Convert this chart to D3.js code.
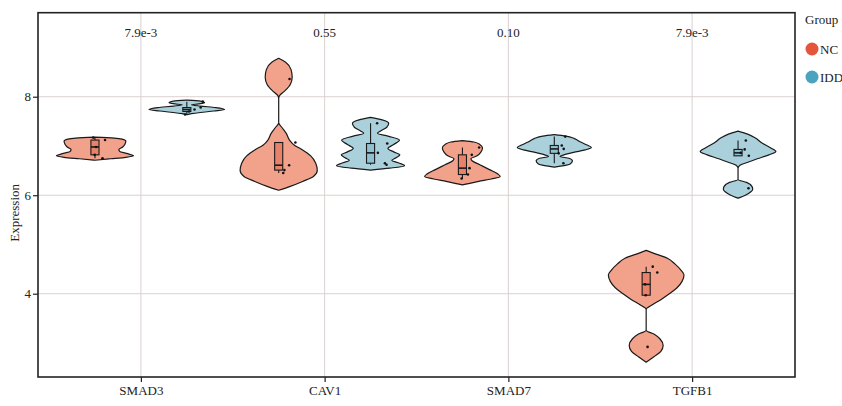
<!DOCTYPE html>
<html>
<head>
<meta charset="utf-8">
<script src="https://cdn.jsdelivr.net/npm/d3@7"></script>
<style>
  html, body { margin: 0; padding: 0; background: #ffffff; }
  svg { display: block; }
  text { font-family: "Liberation Serif", "Times New Roman", serif; }
</style>
</head>
<body>
<svg id="chart" width="842" height="406"></svg>
<script>
// Genes on the x axis and the two groups compared for each gene
const genes = ["SMAD3", "CAV1", "SMAD7", "TGFB1"];
const groups = ["NC", "IDD"];
const pLabels = ["7.9e-3", "0.55", "0.10", "7.9e-3"];
const yTicks = [4, 6, 8];

// Expression of the five samples per group, one row per gene
const ncValues = [
  [6.75, 6.82, 6.98, 7.12, 7.17],
  [6.45, 6.51, 6.61, 7.07, 8.36],
  [6.34, 6.42, 6.55, 6.82, 6.97],
  [2.92, 3.97, 4.19, 4.43, 4.55]
];
const iddValues = [
  [7.64, 7.70, 7.74, 7.78, 7.90],
  [6.62, 6.65, 6.86, 7.05, 7.46],
  [6.65, 6.85, 6.94, 7.01, 7.19],
  [6.14, 6.80, 6.86, 6.93, 7.11]
];

// Violin outlines: [expression, relative density] (each violin scaled to its own maximum)
const ncViolins = [
  [[7.18,0],[7.16,0.50],[7.14,0.70],[7.10,0.80],[7.04,0.78],[6.98,0.72],[6.93,0.62],[6.89,0.64],
   [6.85,0.82],[6.80,1.0],[6.77,0.80],[6.74,0.40],[6.71,0]],
  [[8.78,0],[8.70,0.18],[8.55,0.32],[8.40,0.35],[8.25,0.30],[8.12,0.16],[8.02,0.02],[7.96,0],
   [7.47,0],[7.38,0.08],[7.25,0.20],[7.12,0.28],[7.02,0.40],[6.92,0.62],[6.80,0.83],[6.65,0.96],
   [6.50,1.0],[6.38,0.90],[6.28,0.62],[6.18,0.30],[6.10,0]],
  [[7.11,0],[7.08,0.30],[7.03,0.45],[6.96,0.52],[6.88,0.48],[6.80,0.38],[6.74,0.22],[6.70,0.25],
   [6.62,0.45],[6.52,0.70],[6.43,0.92],[6.38,0.98],[6.33,0.75],[6.28,0.42],[6.23,0.12],[6.21,0]],
  [[4.88,0],[4.82,0.20],[4.72,0.55],[4.60,0.75],[4.48,0.90],[4.38,0.98],[4.25,0.93],[4.12,0.80],
   [4.00,0.60],[3.88,0.38],[3.77,0.15],[3.68,0],[3.26,0],[3.18,0.20],[3.08,0.36],[2.95,0.44],
   [2.83,0.38],[2.72,0.20],[2.61,0]]
];
const iddViolins = [
  [[7.93,0],[7.91,0.35],[7.88,0.46],[7.855,0.30],[7.835,0.12],[7.81,0.35],[7.78,0.75],[7.74,0.98],
   [7.71,0.70],[7.68,0.35],[7.655,0.12],[7.635,0]],
  [[7.58,0],[7.53,0.30],[7.46,0.47],[7.38,0.42],[7.30,0.25],[7.26,0.18],[7.20,0.45],[7.12,0.75],
   [7.03,0.60],[6.95,0.45],[6.88,0.60],[6.82,0.76],[6.76,0.66],[6.71,0.55],[6.65,0.75],[6.60,0.88],
   [6.55,0.50],[6.51,0]],
  [[7.23,0],[7.20,0.30],[7.15,0.52],[7.08,0.68],[7.02,0.85],[6.97,0.96],[6.92,0.80],[6.87,0.50],
   [6.82,0.25],[6.785,0.15],[6.75,0.38],[6.70,0.47],[6.64,0.42],[6.60,0.25],[6.57,0]],
  [[7.30,0],[7.24,0.25],[7.16,0.45],[7.06,0.62],[6.96,0.85],[6.89,0.98],[6.82,0.80],[6.74,0.50],
   [6.66,0.22],[6.61,0.05],[6.55,0],[6.32,0],[6.26,0.22],[6.18,0.36],[6.12,0.38],[6.04,0.28],
   [5.97,0.10],[5.94,0]]
];

const violinFill = { NC: "#F2A28B", IDD: "#AAD0DC" };
const boxFill = { NC: "#E8826A", IDD: "#8FC1D0" };
const legendColor = { NC: "#E4553C", IDD: "#4CA3C0" };

const svg = d3.select("#chart");
const panel = { left: 38, right: 795, top: 12.7, bottom: 377 };

const x = d3.scalePoint().domain(genes).range([panel.left, panel.right]).padding(0.56);
const y = d3.scaleLinear().domain([2.309, 9.706]).range([panel.bottom, panel.top]);
const step = x.step();
const dodge = { NC: -0.25 * step, IDD: 0.25 * step };
const violinHalf = 0.21 * step;
const boxHalf = 0.022 * step;

// grid
const grid = svg.append("g");
grid.selectAll("line.h").data(yTicks).join("line")
  .attr("x1", panel.left).attr("x2", panel.right)
  .attr("y1", d => y(d)).attr("y2", d => y(d))
  .attr("stroke", "#DBD0D0").attr("stroke-width", 1);
grid.selectAll("line.v").data(genes).join("line")
  .attr("y1", panel.top).attr("y2", panel.bottom)
  .attr("x1", d => x(d)).attr("x2", d => x(d))
  .attr("stroke", "#DBD0D0").attr("stroke-width", 1);

// one record per gene and group
const cells = [];
genes.forEach((g, i) => {
  cells.push({ gene: g, group: "NC", values: ncValues[i], violin: ncViolins[i] });
  cells.push({ gene: g, group: "IDD", values: iddValues[i], violin: iddViolins[i] });
});
cells.forEach(c => { c.cx = x(c.gene) + dodge[c.group]; });

// violins
const violinArea = cx => d3.area()
  .y(d => y(d[0]))
  .x0(d => cx - d[1] * violinHalf)
  .x1(d => cx + d[1] * violinHalf)
  .curve(d3.curveMonotoneY);

svg.append("g").selectAll("path").data(cells).join("path")
  .attr("d", c => violinArea(c.cx)(c.violin.slice().sort((a, b) => b[0] - a[0])))
  .attr("fill", c => violinFill[c.group])
  .attr("stroke", "#1a1a1a").attr("stroke-width", 1.2)
  .attr("stroke-linejoin", "round");

// box plots
const boxes = svg.append("g");
cells.forEach(c => {
  const v = c.values.slice().sort(d3.ascending);
  const q1 = d3.quantile(v, 0.25), med = d3.quantile(v, 0.5), q3 = d3.quantile(v, 0.75);
  const iqr = q3 - q1;
  const lo = d3.min(v.filter(d => d >= q1 - 1.5 * iqr));
  const hi = d3.max(v.filter(d => d <= q3 + 1.5 * iqr));
  const g = boxes.append("g").attr("stroke", "#1a1a1a").attr("stroke-width", 1.1);
  g.append("line").attr("x1", c.cx).attr("x2", c.cx).attr("y1", y(q3)).attr("y2", y(hi));
  g.append("line").attr("x1", c.cx).attr("x2", c.cx).attr("y1", y(q1)).attr("y2", y(lo));
  g.append("rect")
    .attr("x", c.cx - boxHalf).attr("width", 2 * boxHalf)
    .attr("y", y(q3)).attr("height", y(q1) - y(q3))
    .attr("fill", boxFill[c.group]);
  g.append("line").attr("x1", c.cx - boxHalf).attr("x2", c.cx + boxHalf)
    .attr("y1", y(med)).attr("y2", y(med)).attr("stroke-width", 1.6);
});

// jittered sample points
const jitter = d3.randomUniform.source(d3.randomLcg(0.37))(-0.01, 0.095);
const pts = [];
cells.forEach(c => c.values.forEach(v => pts.push({ cx: c.cx + jitter() * step, v })));
svg.append("g").selectAll("circle").data(pts).join("circle")
  .attr("cx", d => d.cx).attr("cy", d => y(d.v)).attr("r", 1.3)
  .attr("fill", "#111");

// panel border
svg.append("rect")
  .attr("x", panel.left).attr("y", panel.top)
  .attr("width", panel.right - panel.left).attr("height", panel.bottom - panel.top)
  .attr("fill", "none").attr("stroke", "#222").attr("stroke-width", 1.6);

// axes
const yAxis = svg.append("g").attr("transform", `translate(${panel.left},0)`)
  .call(d3.axisLeft(y).tickValues(yTicks).tickSize(5).tickPadding(2).tickFormat(d3.format("d")));
const xAxis = svg.append("g").attr("transform", `translate(0,${panel.bottom})`)
  .call(d3.axisBottom(x).tickSize(5).tickPadding(4));
[yAxis, xAxis].forEach(a => {
  a.select(".domain").remove();
  a.selectAll(".tick line").attr("stroke", "#222").attr("stroke-width", 1.2);
  a.selectAll(".tick text").attr("fill", "#222")
    .style("font-family", "'Liberation Serif', serif").style("font-size", "13px");
});

svg.append("text")
  .attr("transform", `translate(16,${(panel.top + panel.bottom) / 2 + 18}) rotate(-90)`)
  .attr("text-anchor", "middle").attr("dominant-baseline", "middle")
  .attr("font-size", 13).attr("fill", "#222").text("Expression");

// p-values above each gene
svg.append("g").selectAll("text").data(genes).join("text")
  .attr("x", d => x(d)).attr("y", 37)
  .attr("text-anchor", "middle").attr("font-size", 13).attr("fill", "#222")
  .text((d, i) => pLabels[i]);

// legend
const legend = svg.append("g");
legend.append("text").attr("x", 805).attr("y", 24).attr("font-size", 13)
  .attr("fill", "#222").text("Group");
const items = legend.selectAll("g.item").data(groups).join("g")
  .attr("transform", (d, i) => `translate(0,${49 + i * 28})`);
items.append("circle").attr("cx", 812).attr("cy", 0).attr("r", 6.5)
  .attr("fill", d => legendColor[d]);
items.append("text").attr("x", 820).attr("y", 0).attr("dy", "0.35em")
  .attr("font-size", 13).attr("fill", "#222").text(d => d);
</script>
</body>
</html>
